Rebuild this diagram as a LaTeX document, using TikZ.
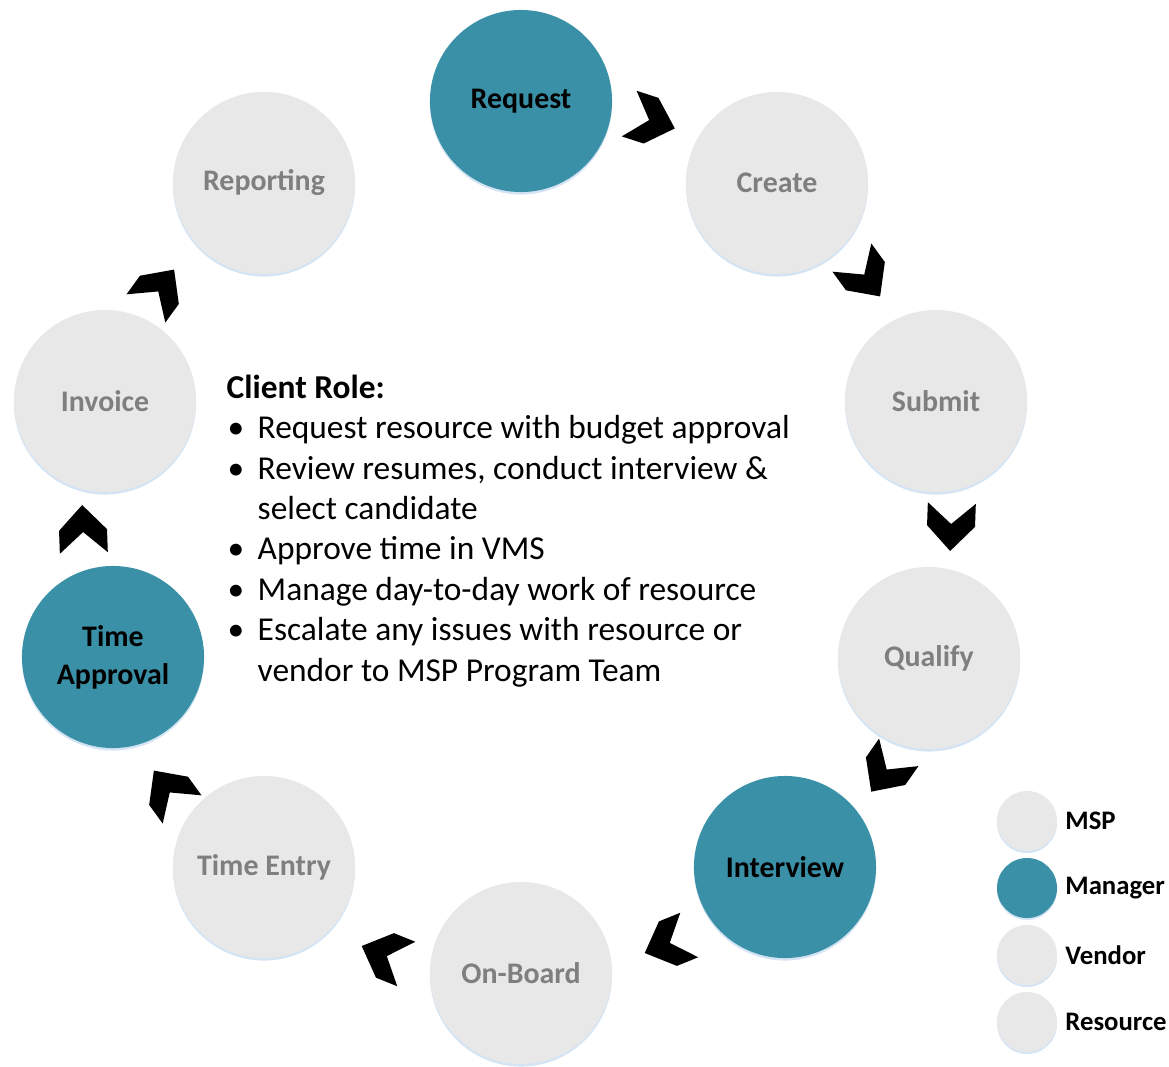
\documentclass[tikz,border=0pt]{standalone}
\usepackage{fontspec}
\setmainfont{Carlito}
\usetikzlibrary{positioning}
\definecolor{stepteal}{RGB}{58,145,167}
\definecolor{stepgray}{RGB}{232,232,232}
\definecolor{labelgray}{RGB}{127,127,127}
\definecolor{glowblue}{RGB}{212,228,244}
\newcommand{\rolebul}{\makebox[0.31cm][l]{\hspace{0.01cm}\textbullet}}

\tikzset{
  phase/.style={circle, minimum size=1.82cm, inner sep=0pt, align=center,
    font=\fontsize{8.5}{10.8}\selectfont\bfseries,
    preaction={fill=glowblue, transform canvas={yshift=-0.025cm}}},
  msp/.style={phase, fill=stepgray, text=labelgray},
  mgr/.style={phase, fill=stepteal, text=black},
  key/.style={circle, minimum size=0.6cm, inner sep=0pt,
    preaction={fill=glowblue, transform canvas={yshift=-0.02cm}}},
  keylabel/.style={inner sep=0pt, font=\fontsize{7.6}{9}\selectfont\bfseries},
  roletext/.style={inner sep=0pt, align=left, font=\fontsize{9.5}{11.5}\selectfont},
  chev/.pic={\fill[black] (24,0) -- (-1,24) -- (-24,24) -- (-3,0) -- (-24,-24) -- (-1,-24) -- cycle;}
}

\begin{document}
\begin{tikzpicture}[x=0.01cm, y=-0.01cm]
    \useasboundingbox (0,0) rectangle (1169,1066);

    % the cycle
    \node[mgr] (request) at (521,101) {Request};
    \node[msp] (create) at (777,183) {Create};
    \node[msp] (submit) at (936,401) {Submit};
    \node[msp] (qualify) at (929,658) {Qualify};
    \node[mgr] (interview) at (785,867) {Interview};
    \node[msp] (onboard) at (521,973) {On-Board};
    \node[msp] (timeentry) at (264,867) {Time Entry};
    \node[mgr] (timeapproval) at (113,657) {Time\\Approval};
    \node[msp] (invoice) at (105,401) {Invoice};
    \node[msp] (reporting) at (264,183) {Reporting};

    % chevrons between the steps
    \foreach \cx/\cy/\ang in {652/121/18, 866/277/54, 951/527/92, 885/772/125,
        667/944/158, 384/955/202, 168/790/234, 83/529/268, 160/289/306}
        \pic[rotate=-\ang] at (\cx,\cy) {chev};

    % client role
    \node[roletext, anchor=north west] (role) at (226,374) {\textbf{Client Role:}\\
        \rolebul Request resource with budget approval\\
        \rolebul Review resumes, conduct interview \&\\
        \hspace*{0.31cm}select candidate\\
        \rolebul Approve time in VMS\\
        \rolebul Manage day-to-day work of resource\\
        \rolebul Escalate any issues with resource or\\
        \hspace*{0.31cm}vendor to MSP Program Team};

    % legend
    \node[key, fill=stepgray] (mspkey) at (1027,821) {};
    \node[key, fill=stepteal] (mgrkey) at (1027,888) {};
    \node[key, fill=stepgray] (vendorkey) at (1027,955) {};
    \node[key, fill=stepgray] (reskey) at (1027,1022) {};
    \node[keylabel, right=0.07cm of mspkey] (msplabel) {MSP};
    \node[keylabel, right=0.07cm of mgrkey] (mgrlabel) {Manager};
    \node[keylabel, right=0.07cm of vendorkey] (vendorlabel) {Vendor};
    \node[keylabel, right=0.07cm of reskey] (reslabel) {Resource};
\end{tikzpicture}
\end{document}
